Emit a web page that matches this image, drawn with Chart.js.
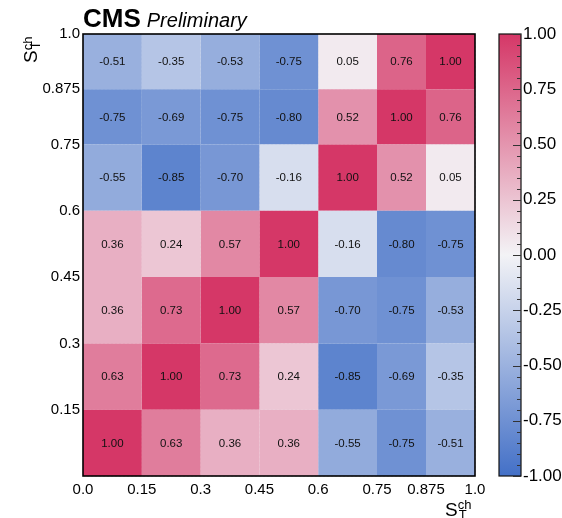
<!DOCTYPE html>
<html>
<head>
<meta charset="utf-8">
<script src="https://cdn.jsdelivr.net/npm/chart.js@4.4.0/dist/chart.umd.min.js"></script>
<style>
  html, body { margin: 0; padding: 0; background: #fff; }
  canvas { display: block; }
</style>
</head>
<body>
<canvas id="corrChart" width="562" height="518"></canvas>
<script>
  // S_T^ch binning, same on both axes
  const binEdges = [0.0, 0.15, 0.3, 0.45, 0.6, 0.75, 0.875, 1.0];
  const edgeLabels = ['0.0', '0.15', '0.3', '0.45', '0.6', '0.75', '0.875', '1.0'];

  // correlation coefficients, one array per y bin (bottom to top)
  const row1 = [1.00, 0.63, 0.36, 0.36, -0.55, -0.75, -0.51];
  const row2 = [0.63, 1.00, 0.73, 0.24, -0.85, -0.69, -0.35];
  const row3 = [0.36, 0.73, 1.00, 0.57, -0.70, -0.75, -0.53];
  const row4 = [0.36, 0.24, 0.57, 1.00, -0.16, -0.80, -0.75];
  const row5 = [-0.55, -0.85, -0.70, -0.16, 1.00, 0.52, 0.05];
  const row6 = [-0.75, -0.69, -0.75, -0.80, 0.52, 1.00, 0.76];
  const row7 = [-0.51, -0.35, -0.53, -0.75, 0.05, 0.76, 1.00];
  const rows = [row1, row2, row3, row4, row5, row6, row7];

  const colorbarTicks = [-1, -0.75, -0.5, -0.25, 0, 0.25, 0.5, 0.75, 1];

  const FONT = '"Liberation Sans", Arial, Helvetica, sans-serif';

  // blue - white - red palette
  const lowColor = [67, 112, 199];
  const midColor = [243, 243, 246];
  const highColor = [213, 55, 103];
  function corrColor(v) {
    const t = Math.min(Math.abs(v), 1);
    const end = v < 0 ? lowColor : highColor;
    const c = midColor.map((m, k) => Math.round(m + (end[k] - m) * t));
    return 'rgb(' + c.join(',') + ')';
  }

  // every cell is a closed rectangle path filled with its colour
  const datasets = [];
  rows.forEach((row, j) => {
    row.forEach((v, i) => {
      const x0 = binEdges[i], x1 = binEdges[i + 1];
      const y0 = binEdges[j], y1 = binEdges[j + 1];
      datasets.push({
        data: [{x: x0, y: y0}, {x: x1, y: y0}, {x: x1, y: y1}, {x: x0, y: y1}, {x: x0, y: y0}],
        backgroundColor: corrColor(v),
        borderColor: 'rgba(0,0,0,0)',
        borderWidth: 0,
        fill: 'shape',
        pointRadius: 0,
        tension: 0
      });
    });
  });

  const cellLabels = {
    id: 'cellLabels',
    afterDatasetsDraw(chart) {
      const {ctx, scales: {x, y}} = chart;
      ctx.save();
      ctx.font = '11.5px ' + FONT;
      ctx.fillStyle = '#111';
      ctx.textAlign = 'center';
      ctx.textBaseline = 'middle';
      rows.forEach((row, j) => row.forEach((v, i) => {
        const px = x.getPixelForValue((binEdges[i] + binEdges[i + 1]) / 2);
        const py = y.getPixelForValue((binEdges[j] + binEdges[j + 1]) / 2);
        ctx.fillText(v.toFixed(2), px, py + 0.5);
      }));
      ctx.restore();
    }
  };

  const decorations = {
    id: 'decorations',
    afterDraw(chart) {
      const {ctx, chartArea: a, scales: {z}} = chart;
      ctx.save();

      // frame
      ctx.strokeStyle = '#000';
      ctx.lineWidth = 1.6;
      ctx.strokeRect(a.left, a.top, a.right - a.left, a.bottom - a.top);

      // colour bar
      const cbLeft = a.right + 24, cbRight = a.right + 46;
      const yTop = z.getPixelForValue(1), yBot = z.getPixelForValue(-1);
      const grad = ctx.createLinearGradient(0, yBot, 0, yTop);
      grad.addColorStop(0, corrColor(-1));
      grad.addColorStop(0.5, corrColor(0));
      grad.addColorStop(1, corrColor(1));
      ctx.fillStyle = grad;
      ctx.fillRect(cbLeft, yTop, cbRight - cbLeft, yBot - yTop);
      ctx.strokeStyle = '#111';
      ctx.lineWidth = 1.2;
      ctx.strokeRect(cbLeft, yTop, cbRight - cbLeft, yBot - yTop);
      ctx.strokeStyle = '#333';
      ctx.lineWidth = 1;
      for (let k = -20; k <= 20; k++) {
        const py = Math.round(z.getPixelForValue(k / 20)) + 0.5;
        const len = k % 5 === 0 ? 8 : 4;
        ctx.beginPath();
        ctx.moveTo(cbRight, py);
        ctx.lineTo(cbRight - len, py);
        ctx.stroke();
      }

      // CMS Preliminary
      ctx.fillStyle = '#000';
      ctx.textBaseline = 'alphabetic';
      ctx.textAlign = 'left';
      ctx.font = 'bold 26px ' + FONT;
      ctx.fillText('CMS', a.left, 27);
      const cmsW = ctx.measureText('CMS').width;
      ctx.font = 'italic 20px ' + FONT;
      ctx.fillText('Preliminary', a.left + cmsW + 6, 27);

      // axis titles S_T^ch
      const drawTitle = (rise) => {
        ctx.font = '19px ' + FONT;
        ctx.fillText('S', 0, 0);
        const w = ctx.measureText('S').width;
        ctx.font = '13px ' + FONT;
        ctx.fillText('ch', w, -rise);
        ctx.fillText('T', w + 1, 3);
      };
      ctx.save();
      ctx.translate(445, 516);
      drawTitle(7);
      ctx.restore();
      ctx.save();
      ctx.translate(37, 63);
      ctx.rotate(-Math.PI / 2);
      drawTitle(5);
      ctx.restore();

      ctx.restore();
    }
  };

  const axisTicks = {
    font: {family: FONT, size: 15},
    color: '#000',
    autoSkip: false,
    maxRotation: 0
  };
  const cellGrid = {color: 'rgba(225,225,235,0.5)', lineWidth: 1, drawTicks: false};

  new Chart(document.getElementById('corrChart'), {
    type: 'line',
    data: {datasets},
    options: {
      responsive: false,
      animation: false,
      events: [],
      layout: {padding: {top: 34, left: 0, right: 0, bottom: 0}},
      plugins: {legend: {display: false}, tooltip: {enabled: false}},
      scales: {
        x: {
          type: 'linear', min: 0, max: 1, z: 1,
          afterBuildTicks: s => { s.ticks = binEdges.map(v => ({value: v})); },
          afterFit: s => { s.height = 42; },
          grid: cellGrid,
          border: {display: false, dash: [2, 2]},
          ticks: Object.assign({padding: 5, callback: (v, i) => edgeLabels[i]}, axisTicks)
        },
        y: {
          type: 'linear', min: 0, max: 1, z: 1,
          afterBuildTicks: s => { s.ticks = binEdges.map(v => ({value: v})); },
          afterFit: s => { s.width = 83; },
          grid: cellGrid,
          border: {display: false, dash: [2, 2]},
          // the origin label is only shown on the x axis
          ticks: Object.assign({padding: 3, callback: (v, i) => (i === 0 ? '' : edgeLabels[i])}, axisTicks)
        },
        z: {
          type: 'linear', position: 'right', min: -1, max: 1,
          afterBuildTicks: s => { s.ticks = colorbarTicks.map(v => ({value: v})); },
          afterFit: s => {
            s.width = 87;
            // labels sit beside the bar, so no extra vertical room is needed
            s.paddingTop = 0;
            s.paddingBottom = 0;
          },
          grid: {display: false, drawTicks: false},
          border: {display: false},
          ticks: {
            padding: 48,
            font: {family: FONT, size: 17},
            color: '#000',
            callback: v => v.toFixed(2)
          }
        }
      }
    },
    plugins: [cellLabels, decorations]
  });
</script>
</body>
</html>
